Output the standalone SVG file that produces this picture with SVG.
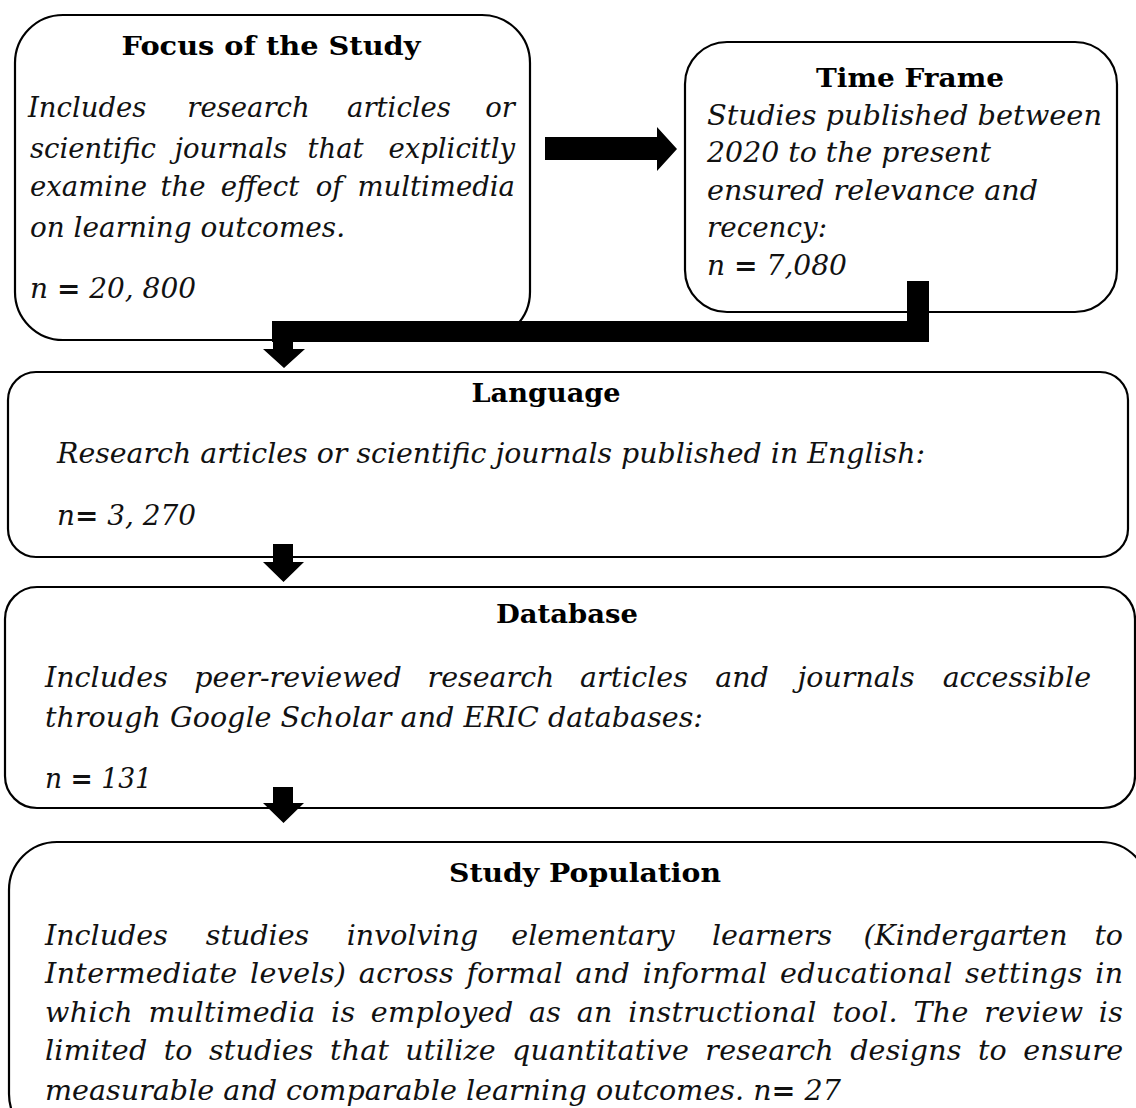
<svg xmlns="http://www.w3.org/2000/svg" width="1136" height="1108" viewBox="0 0 1136 1108">
<style>
.box{fill:#fff;stroke:#000;stroke-width:2.2}
.t{font-family:"DejaVu Serif",serif;font-weight:bold;font-size:26px;fill:#000;text-anchor:middle}
.b{font-family:"DejaVu Serif",serif;font-style:italic;font-size:27.5px;fill:#111}
.l{font-size:28.5px}
.m{text-anchor:middle}
.e{text-anchor:end}
.eq{font-style:normal;font-weight:bold}
.conn{fill:#000;stroke:none}
</style>
<rect width="1136" height="1108" fill="#fff"/>

<g id="focus">
<rect class="box" x="15" y="15" width="515" height="325" rx="48"/>
<text class="t" x="271" y="55" textLength="299" lengthAdjust="spacingAndGlyphs">Focus of the Study</text>
<text class="b" x="28" y="117">Includes</text>
<text class="b m" x="248.5" y="117">research</text>
<text class="b m" x="399" y="117">articles</text>
<text class="b e" x="515" y="117">or</text>
<text class="b" x="30" y="158">scientific</text>
<text class="b m" x="231" y="158">journals</text>
<text class="b m" x="335.5" y="158">that</text>
<text class="b e" x="515" y="158">explicitly</text>
<text class="b" x="30" y="196">examine</text>
<text class="b m" x="183" y="196">the</text>
<text class="b m" x="260" y="196">effect</text>
<text class="b m" x="329" y="196">of</text>
<text class="b e" x="515" y="196">multimedia</text>
<text class="b" x="30" y="237" textLength="315" lengthAdjust="spacingAndGlyphs">on learning outcomes.</text>
<text class="b" x="30" y="298" textLength="166" lengthAdjust="spacingAndGlyphs">n <tspan class="eq">=</tspan> 20, 800</text>
</g>

<g id="timeframe">
<rect class="box" x="685" y="42" width="432" height="270" rx="42"/>
<text class="t" x="910" y="87" textLength="188" lengthAdjust="spacingAndGlyphs">Time Frame</text>
<text class="b" x="707" y="125" textLength="395" lengthAdjust="spacingAndGlyphs">Studies published between</text>
<text class="b" x="707" y="162" textLength="284" lengthAdjust="spacingAndGlyphs">2020 to the present</text>
<text class="b" x="707" y="200" textLength="331" lengthAdjust="spacingAndGlyphs">ensured relevance and</text>
<text class="b" x="707" y="237" textLength="120" lengthAdjust="spacingAndGlyphs">recency:</text>
<text class="b" x="707" y="275" textLength="140" lengthAdjust="spacingAndGlyphs">n <tspan class="eq">=</tspan> 7,080</text>
</g>

<g id="language">
<rect class="box" x="8" y="372" width="1120" height="185" rx="28"/>
<text class="t" x="546" y="402" textLength="149" lengthAdjust="spacingAndGlyphs">Language</text>
<text class="b l" x="57" y="463" textLength="868" lengthAdjust="spacingAndGlyphs">Research articles or scientific journals published in English:</text>
<text class="b l" x="57" y="525" textLength="139" lengthAdjust="spacingAndGlyphs">n<tspan class="eq">=</tspan> 3, 270</text>
</g>

<g id="database">
<rect class="box" x="5" y="587" width="1130" height="221" rx="32"/>
<text class="t" x="567" y="623" textLength="142" lengthAdjust="spacingAndGlyphs">Database</text>
<text class="b l" x="45" y="687">Includes</text>
<text class="b l m" x="298" y="687">peer-reviewed</text>
<text class="b l m" x="491" y="687">research</text>
<text class="b l m" x="634" y="687">articles</text>
<text class="b l m" x="742" y="687">and</text>
<text class="b l m" x="856" y="687">journals</text>
<text class="b l e" x="1091" y="687">accessible</text>
<text class="b l" x="45" y="727" textLength="658" lengthAdjust="spacingAndGlyphs">through Google Scholar and ERIC databases:</text>
<text class="b l" x="45" y="788" textLength="107" lengthAdjust="spacingAndGlyphs">n <tspan class="eq">=</tspan> 131</text>
</g>

<g id="population">
<rect class="box" x="9" y="842" width="1140" height="300" rx="48"/>
<text class="t" x="585" y="882" textLength="272" lengthAdjust="spacingAndGlyphs">Study Population</text>
<text class="b l" x="45" y="945">Includes</text>
<text class="b l m" x="257.5" y="945">studies</text>
<text class="b l m" x="412.5" y="945">involving</text>
<text class="b l m" x="593" y="945">elementary</text>
<text class="b l m" x="772" y="945">learners</text>
<text class="b l m" x="965.5" y="945">(Kindergarten</text>
<text class="b l e" x="1123" y="945">to</text>
<text class="b l" x="45" y="983" word-spacing="3" textLength="1078" lengthAdjust="spacing">Intermediate levels) across formal and informal educational settings in</text>
<text class="b l" x="45" y="1022" word-spacing="6" textLength="1078" lengthAdjust="spacing">which multimedia is employed as an instructional tool. The review is</text>
<text class="b l" x="45" y="1060" word-spacing="7" textLength="1078" lengthAdjust="spacing">limited to studies that utilize quantitative research designs to ensure</text>
<text class="b l" x="45" y="1100" textLength="796" lengthAdjust="spacingAndGlyphs">measurable and comparable learning outcomes. n<tspan class="eq">=</tspan> 27</text>
</g>

<g id="connectors">
<path class="conn" d="M545,137 H657 V127 L677,149 L657,171 V160 H545 Z"/>
<path class="conn" d="M907,281 H929 V342 H293 V349 H305 L284,368 L263,349 H273 V342 H272 V321 H907 Z"/>
<path class="conn" d="M273,544 H293 V562 H304 L283.5,582 L263,562 H273 Z"/>
<path class="conn" d="M273,787 H293 V803 H304 L283.5,823 L263,803 H273 Z"/>
</g>
</svg>
